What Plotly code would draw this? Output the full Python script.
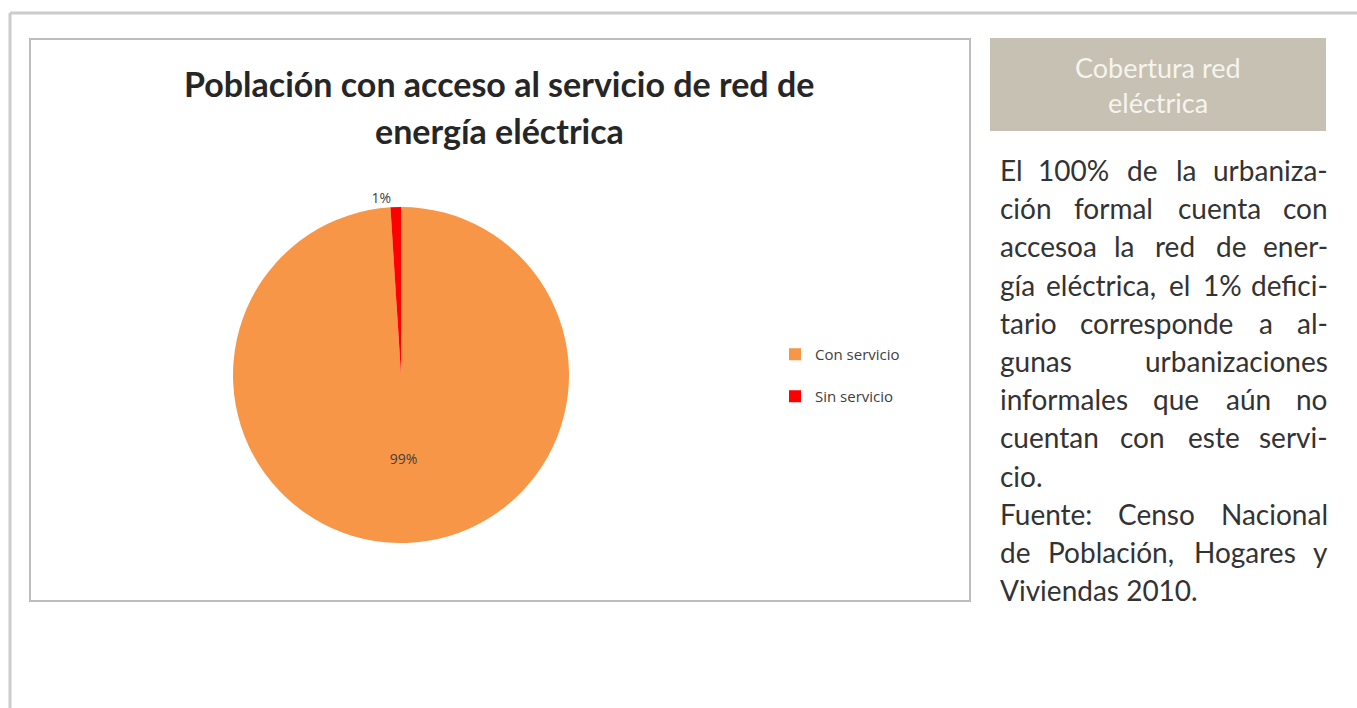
import plotly.graph_objects as go

W, H = 1357, 708

# ---- data ----
labels = ["Con servicio", "Sin servicio"]
values = [99, 1]
slice_colors = ["#F79646", "#FF0000"]
text_positions = ["inside", "outside"]

title_lines = ["Población con acceso al servicio de red de", "energía eléctrica"]
header_lines = ["Cobertura red", "eléctrica"]
para_lines = [
    ("El 100% de la urbaniza-", True),
    ("ción formal cuenta con", True),
    ("accesoa la red de ener-", True),
    ("gía eléctrica, el 1% defici-", True),
    ("tario corresponde a al-", True),
    ("gunas urbanizaciones", True),
    ("informales que aún no", True),
    ("cuentan con este servi-", True),
    ("cio.", False),
    ("Fuente: Censo Nacional", True),
    ("de Población, Hogares y", True),
    ("Viviendas 2010.", False),
]


def px(x):
    return x / W


def py(y):
    return 1 - y / H


# legend entries padded with a blank second line to get the wide spacing
legend_labels = [l + "<br> " for l in labels]

fig = go.Figure()
fig.add_trace(go.Pie(
    labels=legend_labels,
    values=values,
    customdata=labels,
    sort=False,
    direction="clockwise",
    rotation=0,
    marker=dict(colors=slice_colors, line=dict(width=0)),
    texttemplate="%{percent:.0%}",
    textposition=text_positions,
    insidetextorientation="horizontal",
    textfont=dict(family="Open Sans", size=14, color="#404040"),
    domain=dict(x=[px(233), px(569)], y=[py(543), py(207)]),
    showlegend=True,
    hovertemplate="%{customdata}: %{percent}<extra></extra>",
))

shapes = []
# outer frame (top + left)
shapes.append(dict(type="line", xref="paper", yref="paper", x0=px(10), x1=1, y0=py(13), y1=py(13),
                   line=dict(color="#cccccc", width=3)))
shapes.append(dict(type="line", xref="paper", yref="paper", x0=px(10), x1=px(10), y0=py(13), y1=0,
                   line=dict(color="#cccccc", width=3)))
# chart box
shapes.append(dict(type="rect", xref="paper", yref="paper", x0=px(30), x1=px(970), y0=py(601), y1=py(39),
                   line=dict(color="#bdbdbd", width=2), fillcolor="rgba(0,0,0,0)", layer="below"))
# header box
shapes.append(dict(type="rect", xref="paper", yref="paper", x0=px(990), x1=px(1326), y0=py(131), y1=py(38),
                   line=dict(width=0), fillcolor="#c6c1b3", layer="below"))

annotations = []
# title
for i, t in enumerate(title_lines):
    annotations.append(dict(text="<b>%s</b>" % t, xref="paper", yref="paper", x=px(499), y=py(83 + 47 * i),
                            xanchor="center", yanchor="middle", showarrow=False,
                            font=dict(family="Lato", size=34, color="#262626")))
# header
for i, t in enumerate(header_lines):
    annotations.append(dict(text=t, xref="paper", yref="paper", x=px(1158), y=py(67 + 35 * i),
                            xanchor="center", yanchor="middle", showarrow=False,
                            font=dict(family="Lato", size=27, color="#f6f4ee")))

# paragraph (justified)
FS = 28
L, R = 998, 1330

CHAR_W = {
    "a": .51, "b": .56, "c": .46, "d": .56, "e": .52, "f": .32, "g": .50, "h": .56,
    "i": .24, "j": .24, "k": .50, "l": .24, "m": .83, "n": .56, "o": .56, "p": .56,
    "q": .56, "r": .36, "s": .43, "t": .35, "u": .56, "v": .50, "w": .76, "x": .49,
    "y": .50, "z": .46, "á": .51, "é": .52, "í": .24, "ó": .56, "ú": .56,
    "%": .77, ",": .22, ".": .22, ":": .25, "-": .34,
    "E": .56, "F": .54, "C": .66, "N": .73, "P": .58, "H": .73, "V": .66,
}


def ww(word):
    return sum(CHAR_W.get(c, .58 if c.isdigit() else .55) for c in word) * FS


for k, (line, just) in enumerate(para_lines):
    yc = 170 + 38.2 * k
    words = line.split(" ")
    if not just or len(words) == 1:
        annotations.append(dict(text=line, xref="paper", yref="paper", x=px(L), y=py(yc),
                                xanchor="left", yanchor="middle", showarrow=False,
                                font=dict(family="Lato", size=FS, color="#333333")))
        continue
    widths = [ww(w) for w in words]
    gap = (R - L - sum(widths)) / (len(words) - 1)
    pos = L
    for j, w in enumerate(words):
        if j == 0:
            x, anc = L, "left"
        elif j == len(words) - 1:
            x, anc = R, "right"
        else:
            x, anc = pos + widths[j] / 2, "center"
        annotations.append(dict(text=w, xref="paper", yref="paper", x=px(x), y=py(yc),
                                xanchor=anc, yanchor="middle", showarrow=False,
                                font=dict(family="Lato", size=FS, color="#333333")))
        pos += widths[j] + gap

fig.update_layout(
    width=W, height=H,
    margin=dict(l=0, r=0, t=0, b=0),
    paper_bgcolor="white",
    plot_bgcolor="white",
    shapes=shapes,
    annotations=annotations,
    legend=dict(x=px(775), y=py(338), xanchor="left", yanchor="top", valign="top",
                font=dict(family="Open Sans", size=15, color="#404040"),
                bgcolor="rgba(0,0,0,0)", tracegroupgap=0, itemclick=False),
)

fig.write_html("out.html")
